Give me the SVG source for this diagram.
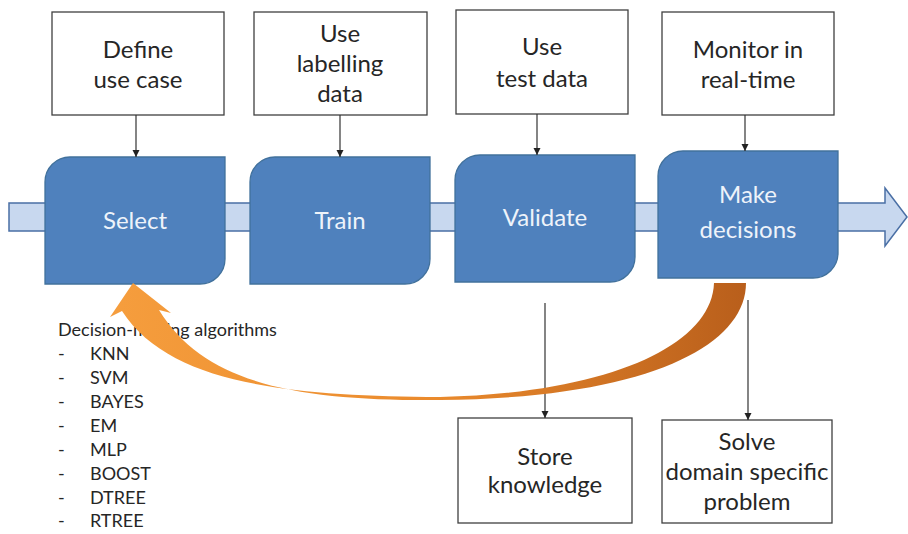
<svg xmlns="http://www.w3.org/2000/svg" xmlns:xlink="http://www.w3.org/1999/xlink" width="908" height="534" viewBox="0 0 908 534">
<defs>
<style>
.box{fill:#fff;stroke:#404040;stroke-width:1.3}
.blk{fill:#4f81bd;stroke:#41719c;stroke-width:1.3}
.t{font-family:Lato,"Liberation Sans",sans-serif;fill:#262626;text-anchor:middle;font-size:24px}
.w{font-family:Lato,"Liberation Sans",sans-serif;fill:#eef3fa;text-anchor:middle;font-size:24px}
.l{font-family:Lato,"Liberation Sans",sans-serif;fill:#262626;font-size:18px}
.c{stroke:#333;stroke-width:1.2;fill:none;marker-end:url(#ah)}
</style>
<marker id="ah" markerWidth="8" markerHeight="8" refX="7" refY="4" orient="auto" markerUnits="userSpaceOnUse">
<path d="M0,0.5 L7,4 L0,7.5 Z" fill="#222"/>
</marker>
<path id="shape" d="M25,0 H180 V102 A25,25 0 0 1 155,127 H0 V25 A25,25 0 0 1 25,0 Z"/>
<linearGradient id="og" x1="120" y1="0" x2="750" y2="0" gradientUnits="userSpaceOnUse">
<stop offset="0" stop-color="#f59d3d"/>
<stop offset="0.5" stop-color="#ea8a2c"/>
<stop offset="1" stop-color="#b85e1b"/>
</linearGradient>
</defs>
<rect width="908" height="534" fill="#fff"/>

<g id="flow-arrow">
<path d="M9,203 H885 V188 L907,217 L885,246 V231 H9 Z" fill="#c8d8ef" stroke="#4a6fa5" stroke-width="1.5"/>
</g>

<g id="select"><use xlink:href="#shape" href="#shape" class="blk" x="45" y="157"/><text class="w" x="135" y="229">Select</text></g>
<g id="train"><use xlink:href="#shape" href="#shape" class="blk" x="250" y="157"/><text class="w" x="340" y="229">Train</text></g>
<g id="validate"><use xlink:href="#shape" href="#shape" class="blk" x="455" y="155"/><text class="w" x="545" y="226">Validate</text></g>
<g id="make"><use xlink:href="#shape" href="#shape" class="blk" x="658" y="151"/><text class="w" x="748" y="203">Make</text><text class="w" x="748" y="238">decisions</text></g>

<g id="define"><rect class="box" x="52" y="12" width="172" height="103"/><text class="t" x="138" y="58">Define</text><text class="t" x="138" y="88">use case</text></g>
<g id="labelling"><rect class="box" x="254" y="12" width="173" height="103"/><text class="t" x="340" y="42">Use</text><text class="t" x="340" y="72">labelling</text><text class="t" x="340" y="102">data</text></g>
<g id="testdata"><rect class="box" x="456" y="10" width="172" height="104"/><text class="t" x="542" y="55">Use</text><text class="t" x="542" y="87">test data</text></g>
<g id="monitor"><rect class="box" x="662" y="12" width="172" height="103"/><text class="t" x="748" y="58">Monitor in</text><text class="t" x="748" y="88">real-time</text></g>

<g id="store"><rect class="box" x="458" y="418" width="174" height="105"/><text class="t" x="545" y="465">Store</text><text class="t" x="545" y="493">knowledge</text></g>
<g id="solve"><rect class="box" x="662" y="420" width="170" height="103"/><text class="t" x="747" y="450">Solve</text><text class="t" x="747" y="480">domain specific</text><text class="t" x="747" y="510">problem</text></g>

<g id="algorithms">
<text class="l" x="58" y="336">Decision-making algorithms</text>
<g class="l">
<text x="58" y="360">-</text><text x="90" y="360">KNN</text>
<text x="58" y="384">-</text><text x="90" y="384">SVM</text>
<text x="58" y="408">-</text><text x="90" y="408">BAYES</text>
<text x="58" y="432">-</text><text x="90" y="432">EM</text>
<text x="58" y="456">-</text><text x="90" y="456">MLP</text>
<text x="58" y="480">-</text><text x="90" y="480">BOOST</text>
<text x="58" y="504">-</text><text x="90" y="504">DTREE</text>
<text x="58" y="527">-</text><text x="90" y="527">RTREE</text>
</g>
</g>

<g id="connectors">
<line class="c" x1="136" y1="115" x2="136" y2="157"/>
<line class="c" x1="340" y1="115" x2="340" y2="157"/>
<line class="c" x1="537" y1="114" x2="537" y2="155"/>
<line class="c" x1="745" y1="115" x2="745" y2="151"/>
<line class="c" x1="545" y1="303" x2="545" y2="418"/>
<line class="c" x1="748" y1="300" x2="748" y2="420"/>
<path id="feedback" d="M714,283 L746,283 C746,345 650,398 440,400 C300,401 205,385 159,310 L171,313 L133,283 L110,317 L122,311 C170,385 290,396 440,397 C610,393 712,345 714,283 Z" fill="url(#og)"/>
</g>
</svg>
